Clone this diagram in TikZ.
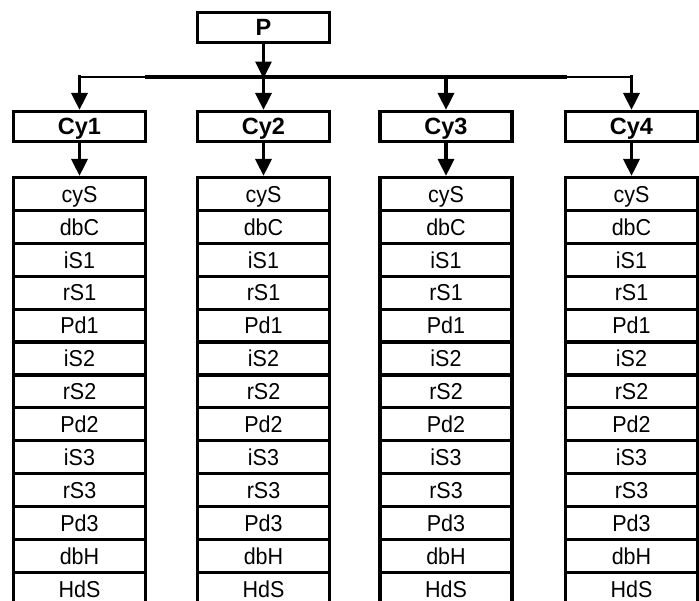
\documentclass[tikz,border=0pt]{standalone}
\usepackage{fontspec}
\setmainfont{Liberation Sans}
\newfontfamily\cellfont[FakeStretch=0.935]{Liberation Sans}
\usetikzlibrary{arrows.meta}
\begin{document}
\begin{tikzpicture}[x=1pt,y=-1pt,
  headbox/.style={draw,line width=3.2pt,minimum width=132pt,minimum height=30pt,inner sep=0pt,
    font=\fontsize{23.5}{28}\selectfont\bfseries,text height=16.8pt,text depth=0pt},
  cellbox/.style={draw,line width=3.2pt,minimum width=132pt,minimum height=32.9pt,inner sep=0pt,
    font=\cellfont\fontsize{23}{27}\selectfont,text height=16.5pt,text depth=0pt},
  arr/.style={line width=3.2pt,-{Triangle[width=16pt,length=17pt]}},
  bus/.style={line width=3.2pt},
  thinbus/.style={line width=2pt}]
\useasboundingbox (0,0) rectangle (699,600);
\node[headbox] (P) at (263.5,27.5) {P};
\coordinate (j) at (263.5,77);
\coordinate (h1) at (79.5,77);
\coordinate (h2) at (263.5,77);
\coordinate (h3) at (446,77);
\coordinate (h4) at (631.5,77);
\coordinate (b1) at (145,77);
\coordinate (b2) at (567,77);
\draw[thinbus] (h1) -- (b1);
\draw[bus] (b1) -- (b2);
\draw[thinbus] (b2) -- (h4);
\draw[arr] (P.south) -- ([yshift=-1.5pt]j);
\foreach \i/\x in {1/79.5,2/263.5,3/446,4/631.5}{
  \node[headbox] (cy\i) at (\x,126.5) {Cy\i};
  \draw[arr] ([yshift=2pt]h\i) -- (cy\i.north);
  \foreach \t [count=\k from 0] in {cyS,dbC,iS1,rS1,Pd1,iS2,rS2,Pd2,iS3,rS3,Pd3,dbH,HdS}{
    \node[cellbox] (c\i-\k) at (\x,{177.5+32.9*(\k+0.5)}) {\t};
  }
  \draw[arr] (cy\i.south) -- (c\i-0.north);
}
\end{tikzpicture}
\end{document}
